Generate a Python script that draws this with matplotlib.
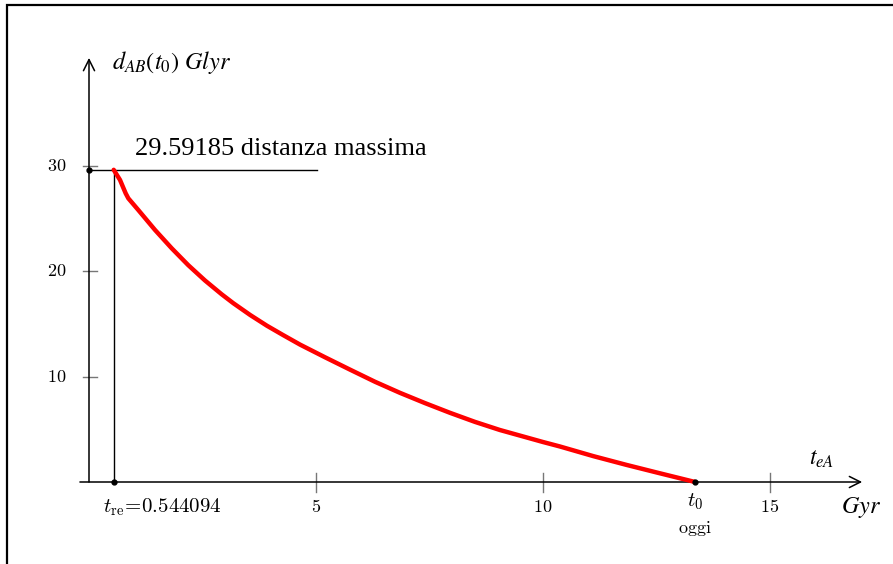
import matplotlib
matplotlib.use("Agg")
import matplotlib.pyplot as plt
from matplotlib.patches import Rectangle

# valori (Gyr, Glyr)
t_ea = [0.544094, 0.683, 0.808, 0.866, 1.086, 1.454, 1.822, 2.187, 2.555, 2.923,
        3.178, 3.55, 3.92, 4.27, 4.65, 5.2, 5.75, 6.3, 6.85, 7.4, 7.95, 8.5,
        9.05, 10.0, 10.37, 11.11, 11.84, 12.58, 13.35]
d_ab = [29.59185, 28.63, 27.36, 26.89, 25.78, 23.89, 22.15, 20.55, 19.1, 17.79,
        16.95, 15.83, 14.81, 13.94, 13.02, 11.82, 10.65, 9.5, 8.45, 7.48, 6.56, 5.7,
        4.93, 3.79, 3.37, 2.45, 1.62, 0.82, 0.0]

t_re = 0.544094
d_max = 29.59185
t_oggi = 13.35
x_ticks = [5, 10, 15]
y_ticks = [10, 20, 30]

fig = plt.figure(figsize=(8.93, 5.64), dpi=100)
ax = fig.add_axes([0, 0, 1, 1])
ax.set_xlim(-89 / 45.4, (893 - 89) / 45.4)
ax.set_ylim(-82 / 10.55, 482 / 10.55)
ax.axis("off")

# cornice
fig.patches.append(Rectangle((7 / 893, -0.1), 1.2, (564 - 5) / 564 + 0.1,
                             transform=fig.transFigure, fill=False,
                             edgecolor="black", lw=1.6))

# assi con frecce
ax.annotate("", xy=(17.03, 0), xytext=(-0.2, 0),
            arrowprops=dict(arrowstyle="->", lw=1.1, color="black",
                            mutation_scale=20, shrinkA=0, shrinkB=0))
ax.annotate("", xy=(0, 40.2), xytext=(0, 0),
            arrowprops=dict(arrowstyle="->", lw=1.1, color="black",
                            mutation_scale=20, shrinkA=0, shrinkB=0))

# tacche
for v in x_ticks:
    ax.plot([v, v], [0.85, -0.95], color="#777777", lw=1)
    ax.text(v, -2.4, r"$\mathrm{%d}$" % v, ha="center", va="center",
            fontsize=13, math_fontfamily="cm")
for v in y_ticks:
    ax.plot([-0.13, 0.18], [v, v], color="#777777", lw=1)
    ax.text(-0.5, v, r"$\mathrm{%d}$" % v, ha="right", va="center",
            fontsize=13, math_fontfamily="cm")

# linee di riferimento
ax.plot([0, 5.02], [d_max, d_max], color="black", lw=1)
ax.plot([t_re, t_re], [0, d_max], color="black", lw=1)

# curva
ax.plot(t_ea, d_ab, color="red", lw=3.2, solid_capstyle="round",
        solid_joinstyle="round", zorder=3)
ax.plot([0, t_re, t_oggi], [d_max, 0, 0], "o", color="black", ms=3.5, zorder=4)

# testi
ax.text((135 - 89) / 45.4, (482 - 155) / 10.55, "%.5f distanza massima" % d_max,
        ha="left", va="baseline", fontsize=19, family="Liberation Serif")
ax.text((112 - 89) / 45.4, (482 - 62) / 10.55, r"$d_{AB}(t_0)\ Glyr$",
        ha="left", va="center", fontsize=17.5, math_fontfamily="stix")
ax.text((162 - 89) / 45.4, (482 - 507) / 10.55,
        r"$t_{\mathrm{re}}\!=\!\mathrm{0.544094}$",
        ha="center", va="center", fontsize=15, math_fontfamily="cm")
ax.text(t_oggi, (482 - 502) / 10.55, r"$t_0$", ha="center", va="center",
        fontsize=15, math_fontfamily="cm")
ax.text(t_oggi, (482 - 529) / 10.55, r"$\mathrm{oggi}$", ha="center", va="center",
        fontsize=13, math_fontfamily="cm")
ax.text((861 - 89) / 45.4, (482 - 507) / 10.55, r"$Gyr$", ha="center", va="center",
        fontsize=17.5, math_fontfamily="stix")
ax.text((822 - 89) / 45.4, (482 - 458) / 10.55, r"$t_{eA}$", ha="center", va="center",
        fontsize=17, math_fontfamily="stix")

fig.savefig("out.png", dpi=100)
